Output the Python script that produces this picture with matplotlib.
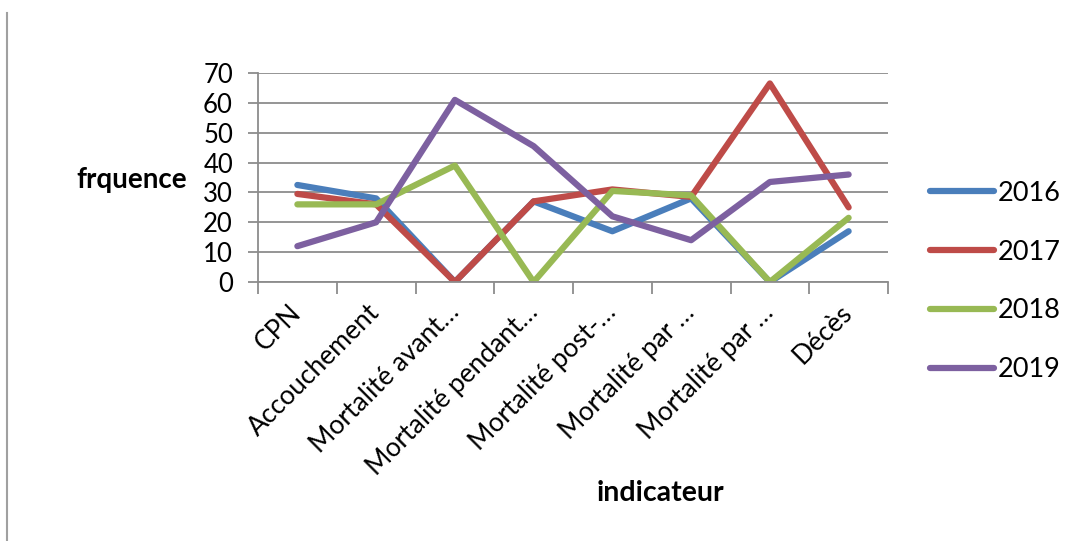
import matplotlib
matplotlib.use("Agg")
from matplotlib import pyplot as plt
from matplotlib.lines import Line2D

# categories and values
categories = ['CPN', 'Accouchement', 'Mortalité avant…', 'Mortalité pendant…',
              'Mortalité post-…', 'Mortalité par …', 'Mortalité par …', 'Décès']
v2016 = [32.5, 28, 0, 27, 17, 28, 0, 17]
v2017 = [29.5, 26, 0, 27, 31, 28.5, 66.5, 25]
v2018 = [26, 26, 39, 0, 30.5, 29, 0, 21.5]
v2019 = [12, 20, 61, 45.5, 22, 14, 33.5, 36]
years = ['2016', '2017', '2018', '2019']
colors = ['#4a7ebb', '#be4b48', '#98b954', '#7d60a0']
yticks = [0, 10, 20, 30, 40, 50, 60, 70]

plt.rcParams['font.family'] = ['Lato', 'DejaVu Sans']
grey = '#8c8c8c'

fig = plt.figure(figsize=(10.74, 5.41), dpi=100)
ax = fig.add_axes([258/1074, 1-282/541, 630/1074, 209/541])

x = list(range(len(categories)))
for vals, c, lab in zip([v2016, v2017, v2018, v2019], colors, years):
    ax.plot(x, vals, color=c, linewidth=4.5, label=lab, solid_capstyle='round',
            solid_joinstyle='round')

ax.set_xlim(-0.5, len(categories) - 0.5)
ax.set_ylim(0, 70)
ax.set_yticks(yticks)
ax.yaxis.grid(True, color=grey, linewidth=1.3)
ax.set_axisbelow(True)
for s in ['top', 'right']:
    ax.spines[s].set_visible(False)
for s in ['left', 'bottom']:
    ax.spines[s].set_color(grey)
    ax.spines[s].set_linewidth(1.3)

ax.tick_params(axis='y', length=7, width=1.3, color=grey, labelsize=18.5, pad=11)
ax.set_xticks(x)
ax.set_xticklabels(categories, rotation=45, ha='right', va='center',
                   rotation_mode='anchor', fontsize=19)
ax.tick_params(axis='x', which='major', length=0, pad=19)
ax.set_xticks([i - 0.5 for i in range(len(categories) + 1)], minor=True)
ax.tick_params(axis='x', which='minor', length=8.5, width=1.3, color=grey)

ax.set_ylabel('frquence', rotation=0, fontsize=20, fontweight='bold',
              ha='center', va='center')
ax.yaxis.set_label_coords(-0.2, 0.488)
ax.set_xlabel('indicateur', fontsize=20.5, fontweight='bold', ha='center', va='center')
ax.xaxis.set_label_coords(0.638, -1.01)

ax.legend(loc='center left', bbox_to_anchor=(930/1074, 1-281.5/541),
          bbox_transform=fig.transFigure, frameon=False, fontsize=19.5,
          handlelength=2.35, handletextpad=0.15, labelspacing=1.25,
          borderpad=0, borderaxespad=0)

# thin border line on the left of the image
fig.add_artist(Line2D([7/1074, 7/1074], [0, 1-13/541], color='#a0a0a0',
                      linewidth=1.5, transform=fig.transFigure))

plt.savefig('out.png', dpi=100)
